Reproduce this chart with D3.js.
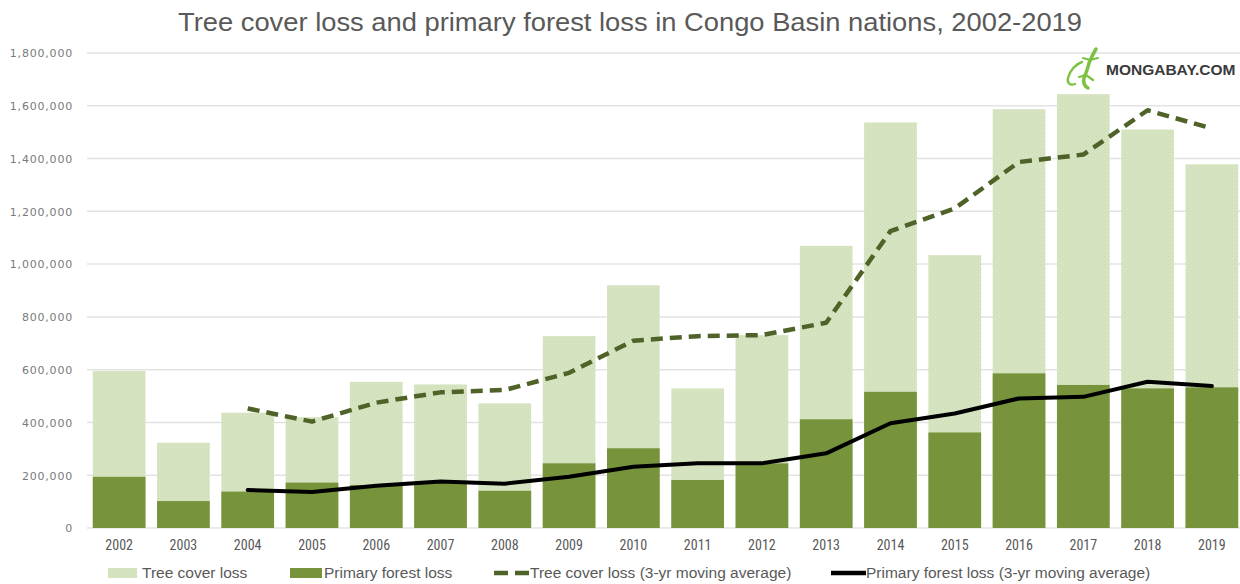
<!DOCTYPE html>
<html><head><meta charset="utf-8">
<script src="https://cdn.jsdelivr.net/npm/d3@7"></script>
<style>
body{margin:0;background:#fff;}
svg{display:block;}
</style></head>
<body>
<svg id="chart" width="1240" height="584"></svg>
<script>
const years = ["2002","2003","2004","2005","2006","2007","2008","2009","2010","2011","2012","2013","2014","2015","2016","2017","2018","2019"];
const treeCoverLoss = [595000,323000,437000,420000,554000,544000,472000,727000,920000,529000,731000,1069000,1537000,1034000,1587000,1644000,1510000,1378000];
const primaryForestLoss = [194000,102000,138000,172000,163000,175000,141000,245000,302000,182000,245000,412000,516000,362000,586000,542000,529000,533000];
const maYears = ["2004","2005","2006","2007","2008","2009","2010","2011","2012","2013","2014","2015","2016","2017","2018","2019"];
const treeCoverMA = [453000,403000,475000,514000,523000,588000,710000,727000,731000,778000,1125000,1211000,1387000,1415000,1583000,1514000];
const primaryMA = [144000,136000,160000,176000,168000,194000,232000,245000,245000,283000,397000,434000,491000,497000,554000,538000];
const yTicks = [0,200000,400000,600000,800000,1000000,1200000,1400000,1600000,1800000];
const title = "Tree cover loss and primary forest loss in Congo Basin nations, 2002-2019";
const legendLabels = ["Tree cover loss","Primary forest loss","Tree cover loss (3-yr moving average)","Primary forest loss (3-yr moving average)"];

const svg = d3.select("#chart");
const lightC = "#d6e4c1", darkC = "#77933c", dashC = "#4f6228", textC = "#595959";
const narrow = "'Liberation Sans Narrow','Roboto Condensed','Arial Narrow',sans-serif";
const regular = "'Liberation Sans',Arial,sans-serif";

const defs = svg.append("defs");
const pat = defs.append("pattern").attr("id","dots").attr("width",4).attr("height",4).attr("patternUnits","userSpaceOnUse");
pat.append("rect").attr("width",4).attr("height",4).attr("fill",lightC);
pat.append("rect").attr("x",0).attr("y",0).attr("width",1).attr("height",1).attr("fill","#c8dab0");
pat.append("rect").attr("x",2).attr("y",2).attr("width",1).attr("height",1).attr("fill","#c8dab0");

const x = d3.scaleBand().domain(years).range([87,1244]).paddingInner(0.18).paddingOuter(0.09);
const y = d3.scaleLinear().domain([0,1800000]).range([528,53]);

// title
svg.append("text").attr("x",178).attr("y",31)
  .attr("textLength",904).attr("lengthAdjust","spacingAndGlyphs")
  .style("font-family",regular).attr("font-size",25).attr("fill",textC).text(title);

// grid
svg.append("g").selectAll("line").data(yTicks).join("line")
  .attr("x1",87).attr("x2",1240).attr("y1",d=>y(d)).attr("y2",d=>y(d))
  .attr("stroke","#e3e3e3").attr("stroke-width",1.5);

// y axis labels
const yAxis = d3.axisLeft(y).tickValues(yTicks).tickSize(0).tickPadding(0).tickFormat(d3.format(","));
const ya = svg.append("g").attr("transform","translate(73,0)").call(yAxis);
ya.select(".domain").remove();
ya.selectAll("text").style("font-family","'DejaVu Sans',Verdana,sans-serif").attr("font-size",11)
  .style("letter-spacing","0.8px").attr("fill","#7a7a7a").attr("dy","0.35em");

// x axis labels
const xAxis = d3.axisBottom(x).tickSize(0).tickPadding(0);
const xa = svg.append("g").attr("transform","translate(0,540)").call(xAxis);
xa.select(".domain").remove();
xa.selectAll("text").style("font-family",narrow).attr("font-size",14).attr("fill",textC).attr("dy","0.71em");

// bars
svg.append("g").selectAll("rect").data(years).join("rect")
  .attr("x",d=>x(d)).attr("width",x.bandwidth())
  .attr("y",(d,i)=>y(treeCoverLoss[i])).attr("height",(d,i)=>y(0)-y(treeCoverLoss[i]))
  .attr("fill","url(#dots)");
svg.append("g").selectAll("rect").data(years).join("rect")
  .attr("x",d=>x(d)).attr("width",x.bandwidth())
  .attr("y",(d,i)=>y(primaryForestLoss[i])).attr("height",(d,i)=>y(0)-y(primaryForestLoss[i]))
  .attr("fill",darkC);

const cx = d=>x(d)+x.bandwidth()/2;
const line1 = d3.line().x((d,i)=>cx(maYears[i])).y(d=>y(d));
svg.append("path").datum(treeCoverMA).attr("d",line1).attr("fill","none")
  .attr("stroke",dashC).attr("stroke-width",4.5).attr("stroke-dasharray","12,7").attr("stroke-linejoin","round");
svg.append("path").datum(primaryMA).attr("d",line1).attr("fill","none")
  .attr("stroke","#000").attr("stroke-width",4).attr("stroke-linejoin","round").attr("stroke-linecap","round");

// legend
const lg = svg.append("g");
const ly = 573;
lg.append("rect").attr("x",108).attr("y",ly-5).attr("width",29).attr("height",10).attr("fill","url(#dots)");
lg.append("rect").attr("x",290).attr("y",ly-5).attr("width",32).attr("height",10).attr("fill",darkC);
lg.append("line").attr("x1",494).attr("x2",530).attr("y1",ly).attr("y2",ly).attr("stroke",dashC).attr("stroke-width",4.5).attr("stroke-dasharray","14,7");
lg.append("line").attr("x1",831).attr("x2",866).attr("y1",ly).attr("y2",ly).attr("stroke","#000").attr("stroke-width",4.5);
const lx = [142,324,530,866];
lg.selectAll("text").data(legendLabels).join("text")
  .attr("x",(d,i)=>lx[i]).attr("y",ly).attr("dy","0.35em")
  .style("font-family",regular).attr("font-size",15.5).attr("fill",textC).text(d=>d);

// logo
const logo = svg.append("g");
logo.append("text").attr("x",1106).attr("y",75).style("font-family",regular)
  .attr("font-weight","bold").attr("font-size",15.5).attr("fill","#3a3a3a").text("MONGABAY.COM");
const g = logo.append("g").attr("fill","none").attr("stroke","#7cc242").attr("stroke-linecap","round").attr("stroke-linejoin","round");
g.append("path").attr("d","M1096,49 C1093,54 1091,58 1089,63 C1088,68 1086,73 1084,78 C1083,83 1084,86 1088,88").attr("stroke-width",3.5);
g.append("path").attr("d","M1082,62 C1076,64 1070,70 1068,78 C1067,83 1070,86 1075,84").attr("stroke-width",2.4);
g.append("path").attr("d","M1090,60 L1083,58 M1090,60 L1098,58 M1086,75 L1079,77 M1086,75 L1093,80").attr("stroke-width",2.2);
</script>
</body></html>
